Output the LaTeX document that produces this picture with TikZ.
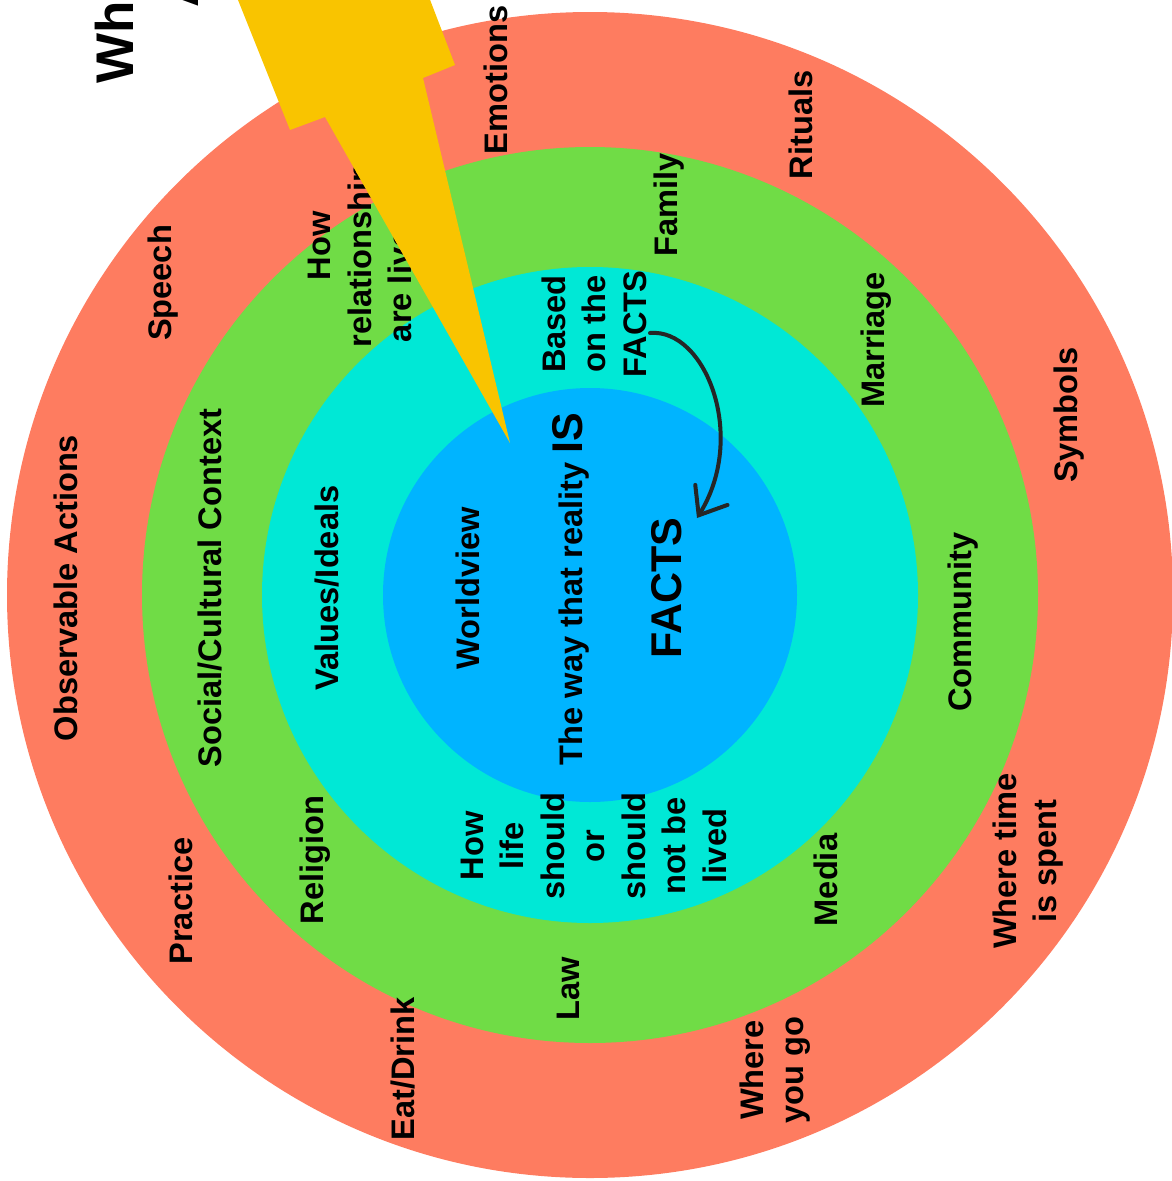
\documentclass[tikz,border=0pt]{standalone}
\usepackage{fontspec}
\setmainfont{Liberation Sans}
\usetikzlibrary{arrows.meta}
\definecolor{ringred}{RGB}{254,124,96}
\definecolor{ringgreen}{RGB}{112,220,70}
\definecolor{ringcyan}{RGB}{0,232,214}
\definecolor{ringblue}{RGB}{0,180,255}
\definecolor{boltyellow}{RGB}{249,196,0}
\begin{document}
\begin{tikzpicture}[x=1pt,y=-1pt,
  lbl/.style={rotate=90, inner sep=0pt, align=center, font=\bfseries\fontsize{32.6}{40.5}\selectfont},
  biglbl/.style={rotate=90, inner sep=0pt, font=\bfseries\fontsize{43}{48}\selectfont},
  titlelbl/.style={rotate=90, inner sep=0pt, font=\bfseries\fontsize{53}{64}\selectfont},
  bolt/.style={fill=boltyellow},
  sketch/.style={draw=black!85, line width=4pt, line cap=round, line join=round,
    -{Straight Barb[length=24pt,width=38pt,line cap=round]}}]
\useasboundingbox (0,0) rectangle (1172,1181);
\clip (0,0) rectangle (1172,1181);
\coordinate (c) at (590,595);
\fill[ringred] (c) circle[radius=583pt];
\fill[ringgreen] (c) circle[radius=448pt];
\fill[ringcyan] (c) circle[radius=328pt];
\fill[ringblue] (c) circle[radius=207pt];
% title (cut off at the top edge, as in the reference)
\node[titlelbl, anchor=base west] (title1) at (133,84) {What};
\node[titlelbl, anchor=base west] (title2) at (198,8) {A};
% outer ring
\node[lbl] (obs) at (66,588) {Observable Actions};
\node[lbl] (speech) at (163,283) {Speech};
\node[lbl] (emotions) at (496,80) {Emotions};
\node[lbl] (rituals) at (801,125) {Rituals};
\node[lbl] (symbols) at (1069,415) {Symbols};
\node[lbl] (wheretime) at (1028,861) {Where time\\is spent};
\node[lbl] (whereyou) at (775,1070) {Where\\you go};
\node[lbl] (eatdrink) at (403,1069) {Eat/Drink};
\node[lbl] (practice) at (181,901) {Practice};
% green ring
\node[lbl] (social) at (210,588) {Social/Cultural Context};
\node[lbl] (howrel) at (360,246) {How\\relationships\\are lived out};
\node[lbl] (family) at (669,205) {Family};
\node[lbl] (marriage) at (876,340) {Marriage};
\node[lbl] (community) at (963,622) {Community};
\node[lbl] (media) at (826,880) {Media};
\node[lbl] (law) at (568,989) {Law};
\node[lbl] (religion) at (315,860) {Religion};
% cyan ring
\node[lbl] (values) at (327,588) {Values/Ideals};
\node[lbl] (based) at (594,324) {Based\\on the\\FACTS};
\node[lbl] (howlife) at (593.5,846) {How\\life\\should\\or\\should\\not be\\lived};
% blue core
\node[lbl] (worldview) at (467.5,588) {Worldview};
\node[lbl] (reality) at (570.5,589) {The way that reality {\fontsize{43}{48}\selectfont IS}};
\node[biglbl] (facts) at (667,588) {FACTS};
% lightning bolt
\fill[bolt] (218,-50) -- (411,-50) -- (455,65) -- (423,78) -- (510,443) -- (325,117) -- (290,130) -- cycle;
% hand-drawn arrow
\coordinate (arrowstart) at (650,333);
\coordinate (arrowtip) at (697,518);
\draw[sketch] (arrowstart) .. controls (705,328) and (748,436) .. (arrowtip);
\end{tikzpicture}
\end{document}
